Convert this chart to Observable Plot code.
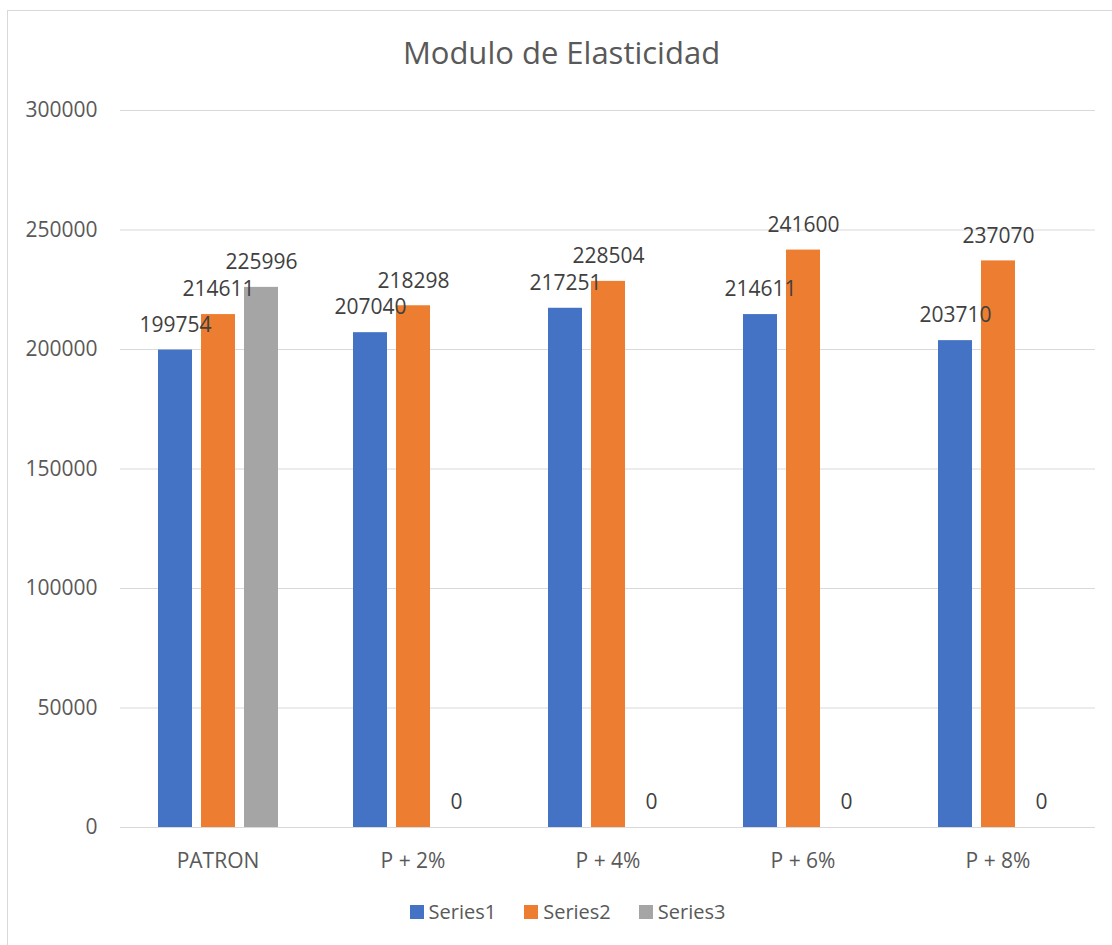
<!DOCTYPE html>
<html>
<head>
<meta charset="utf-8">
<script src="https://cdn.jsdelivr.net/npm/d3@7"></script>
<script src="https://cdn.jsdelivr.net/npm/@observablehq/plot@0.6"></script>
<style>
  html, body { margin: 0; padding: 0; background: #fff; overflow: hidden; }
  body { width: 1112px; height: 945px; position: relative; font-family: "Open Sans", sans-serif; }
  #frame { position: absolute; left: 7px; top: 10px; width: 1200px; height: 1000px; border: 1px solid #d9d9d9; box-sizing: border-box; }
  #title { position: absolute; left: 0; width: 1123px; top: 30px; text-align: center; font-size: 31px; color: #595959; line-height: 44px; }
  #chart { position: absolute; left: 0; top: 80px; }
  #legend { position: absolute; left: 0; width: 1135px; top: 898px; display: flex; justify-content: center; gap: 28px; font-size: 20px; color: #595959; line-height: 28px; }
  .item { display: flex; align-items: center; gap: 5px; }
  .sw { width: 14px; height: 14px; display: inline-block; }
</style>
</head>
<body>
<div id="frame"></div>
<div id="title">Modulo de Elasticidad</div>
<div id="chart"></div>
<div id="legend"></div>
<script>
const categories = ["PATRON", "P + 2%", "P + 4%", "P + 6%", "P + 8%"];
const seriesNames = ["Series1", "Series2", "Series3"];
const series1 = [199754, 207040, 217251, 214611, 203710];
const series2 = [214611, 218298, 228504, 241600, 237070];
const series3 = [225996, 0, 0, 0, 0];
const colors = ["#4472c4", "#ed7d31", "#a5a5a5"];
const yTicks = [0, 50000, 100000, 150000, 200000, 250000, 300000];

const allSeries = [series1, series2, series3];
const data = [];
categories.forEach((c, i) => {
  seriesNames.forEach((s, j) => {
    data.push({cat: c, series: s, value: allSeries[j][i]});
  });
});

const chart = Plot.plot({
  width: 1112,
  height: 800,
  marginTop: 30,
  marginBottom: 53,
  marginLeft: 120,
  marginRight: 17,
  style: {fontFamily: "'Open Sans', sans-serif", fontSize: "21px", color: "#595959", background: "transparent"},
  fx: {domain: categories, paddingInner: 0, paddingOuter: 0, label: null},
  x: {domain: seriesNames, paddingInner: 9 / 43, paddingOuter: 0.872, axis: null},
  y: {domain: [0, 300000], label: null},
  color: {domain: seriesNames, range: colors},
  marks: [
    Plot.gridY(yTicks, {stroke: "#d9d9d9", strokeOpacity: 1, strokeWidth: 1}),
    Plot.axisY(yTicks, {tickSize: 0, tickPadding: 23, tickFormat: d => String(d), fill: "#595959", fontSize: 21, label: null}),
    Plot.axisFx({anchor: "bottom", tickSize: 0, tickPadding: 26, fontSize: 21, fill: "#595959", label: null}),
    Plot.barY(data, {fx: "cat", x: "series", y: "value", fill: "series"}),
    Plot.text(data, {fx: "cat", x: "series", y: "value", text: d => String(d.value), dy: -25, fill: "#404040", fontSize: 21})
  ]
});
document.getElementById("chart").appendChild(chart);

const legend = document.getElementById("legend");
seriesNames.forEach((s, j) => {
  const item = document.createElement("div");
  item.className = "item";
  const sw = document.createElement("span");
  sw.className = "sw";
  sw.style.background = colors[j];
  const t = document.createElement("span");
  t.textContent = s;
  item.appendChild(sw);
  item.appendChild(t);
  legend.appendChild(item);
});
</script>
</body>
</html>
